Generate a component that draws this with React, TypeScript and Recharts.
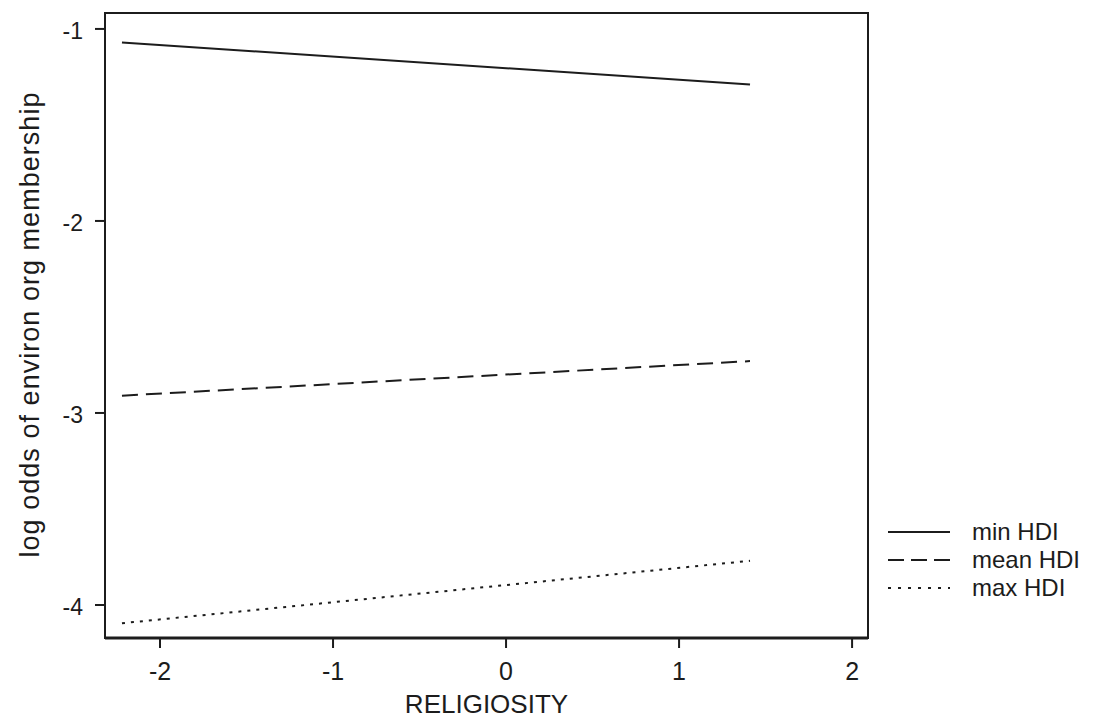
import React from "react";
import { LineChart, Line, XAxis, YAxis, ReferenceArea } from "recharts";

// religiosity at the two ends of each fitted line
const religiosity = [-2.22, 1.41];

// log odds for each HDI level
const minHdi = [-1.07, -1.29];
const meanHdi = [-2.91, -2.73];
const maxHdi = [-4.095, -3.77];

const xTicks = [-2, -1, 0, 1, 2];
const yTicks = [-1, -2, -3, -4];

const series = [
  { key: "min", name: "min HDI", dash: undefined as string | undefined, legendDash: undefined as string | undefined },
  { key: "mean", name: "mean HDI", dash: "16 8", legendDash: "16 7" },
  { key: "max", name: "max HDI", dash: "3 6", legendDash: "3 7" },
];

const data = religiosity.map((x, i) => ({
  x,
  min: minHdi[i],
  mean: meanHdi[i],
  max: maxHdi[i],
}));

const FONT = "'Liberation Sans', Arial, sans-serif";
const INK = "#1c1c1c";

const X_DOMAIN: [number, number] = [-2.318, 2.092];
const Y_DOMAIN: [number, number] = [-4.172, -0.917];

function HdiLegend() {
  return (
    <svg
      width={215}
      height={100}
      style={{ position: "absolute", left: 880, top: 510, display: "block" }}
    >
      {series.map((s, i) => {
        const y = 22 + i * 28;
        return (
          <g key={s.key}>
            <line
              x1={8}
              x2={70}
              y1={y}
              y2={y}
              stroke={INK}
              strokeWidth={2}
              strokeDasharray={s.legendDash}
            />
            <text x={92} y={y + 8} fontSize={24} fontFamily={FONT} fill={INK}>
              {s.name}
            </text>
          </g>
        );
      })}
    </svg>
  );
}

export default function App() {
  return (
    <div
      style={{
        position: "absolute",
        left: 0,
        top: 0,
        width: 1095,
        height: 722,
        background: "#fff",
      }}
    >
      <LineChart
        width={1095}
        height={722}
        data={data}
        margin={{ top: 13, right: 227, bottom: 24, left: 0 }}
      >
        <ReferenceArea
          x1={X_DOMAIN[0]}
          x2={X_DOMAIN[1]}
          y1={Y_DOMAIN[0]}
          y2={Y_DOMAIN[1]}
          fill="none"
          stroke={INK}
          strokeWidth={2}
          ifOverflow="visible"
        />
        <XAxis
          dataKey="x"
          type="number"
          domain={X_DOMAIN}
          ticks={xTicks}
          allowDataOverflow
          height={60}
          tickSize={10}
          tickMargin={14}
          axisLine={{ stroke: INK, strokeWidth: 3 }}
          tickLine={{ stroke: INK, strokeWidth: 2 }}
          tick={{ fontSize: 25, fill: INK, fontFamily: FONT }}
          label={{
            content: () => (
              <text
                x={486.5}
                y={713}
                textAnchor="middle"
                fontSize={26}
                fontFamily={FONT}
                fill={INK}
              >
                RELIGIOSITY
              </text>
            ),
          }}
        />
        <YAxis
          type="number"
          domain={Y_DOMAIN}
          ticks={yTicks}
          allowDataOverflow
          width={105}
          tickSize={10}
          tickMargin={12}
          axisLine={{ stroke: INK, strokeWidth: 2 }}
          tickLine={{ stroke: INK, strokeWidth: 2 }}
          tick={{ fontSize: 23, fill: INK, fontFamily: FONT, dy: 2 }}
          label={{
            content: () => (
              <text
                x={39}
                y={325}
                transform="rotate(-90, 39, 325)"
                textAnchor="middle"
                fontSize={27}
                fontFamily={FONT}
                fill={INK}
                textLength={465}
                lengthAdjust="spacing"
              >
                log odds of environ org membership
              </text>
            ),
          }}
        />
        {series.map((s) => (
          <Line
            key={s.key}
            dataKey={s.key}
            name={s.name}
            type="linear"
            stroke={INK}
            strokeWidth={2}
            strokeDasharray={s.dash}
            dot={false}
            activeDot={false}
            isAnimationActive={false}
          />
        ))}
      </LineChart>
      <HdiLegend />
    </div>
  );
}
